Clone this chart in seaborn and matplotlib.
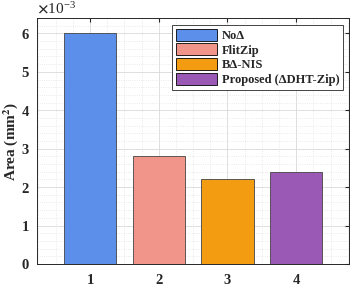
import numpy as np
import matplotlib
matplotlib.use("Agg")
import matplotlib.pyplot as plt
import seaborn as sns
from matplotlib.ticker import MultipleLocator, ScalarFormatter

# donnees
positions = ["1", "2", "3", "4"]
methodes = ["NoΔ", "FlitZip", "BΔ-NIS", "Proposed (ΔDHT-Zip)"]
surface = [6.0e-3, 2.8e-3, 2.2e-3, 2.4e-3]
couleurs = ["#5B8FEA", "#F1948A", "#F39C12", "#9B59B6"]

sns.set_style("white")
plt.rcParams['font.family'] = ['Liberation Serif', 'DejaVu Serif']
plt.rcParams['font.weight'] = 'bold'
plt.rcParams['mathtext.fontset'] = 'stix'

fig = plt.figure(figsize=(3.53, 2.86), dpi=100)
ax = fig.add_axes([0.105, 0.077, 0.884, 0.86])

sns.barplot(x=positions, y=surface, hue=methodes, palette=couleurs, dodge=False,
            saturation=1, width=0.76, edgecolor="#444444", linewidth=0.6, ax=ax, zorder=3)

ax.set_xlim(-0.77, 3.77)
ax.set_ylim(0, 6.4e-3)
ax.yaxis.set_major_locator(MultipleLocator(1e-3))
ax.yaxis.set_minor_locator(MultipleLocator(0.2e-3))
ax.xaxis.set_minor_locator(MultipleLocator(0.25))

fmt = ScalarFormatter(useMathText=True)
fmt.set_powerlimits((-3, -3))
ax.yaxis.set_major_formatter(fmt)
ax.yaxis.get_offset_text().set_fontsize(11)
ax.yaxis.get_offset_text().set_fontweight('normal')

ax.grid(which='major', color='#d9d9d9', linewidth=0.6, zorder=0)
ax.grid(which='minor', color='#e3e3e3', linestyle=':', linewidth=0.6, zorder=0)
ax.set_axisbelow(True)

for s in ax.spines.values():
    s.set_visible(True)
    s.set_color('#262626')
    s.set_linewidth(0.7)

ax.tick_params(which='both', direction='in', length=0, labelsize=10.5)
ax.tick_params(which='major', length=3, top=True, right=True, color='#262626')
ax.tick_params(axis='x', pad=7)
ax.tick_params(axis='y', pad=5)
for lab in ax.get_xticklabels() + ax.get_yticklabels():
    lab.set_fontweight('bold')

ax.set_xlabel('')
ax.set_ylabel('Area (mm$^\\mathbf{2}$)', fontsize=11, fontweight='bold', labelpad=1)

leg = ax.legend(loc='upper right', bbox_to_anchor=(0.981, 0.972), borderaxespad=0,
                fontsize=9, frameon=True, fancybox=False, edgecolor='#262626', framealpha=1,
                handlelength=3.3, handleheight=1.1, borderpad=0.3, labelspacing=0.12,
                handletextpad=0.4)
leg.get_frame().set_linewidth(0.6)
for h in leg.legend_handles:
    h.set_edgecolor('black')
for t in leg.get_texts():
    t.set_fontweight('bold')

plt.savefig('out.png', dpi=100)
